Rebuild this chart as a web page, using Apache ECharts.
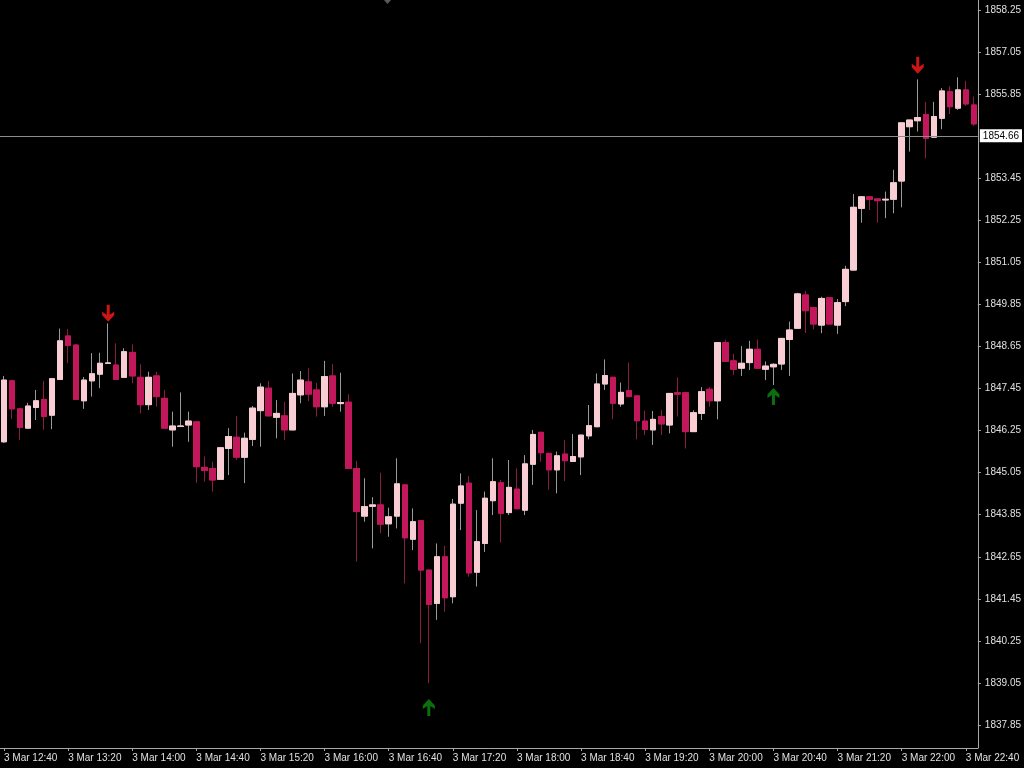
<!DOCTYPE html>
<html><head><meta charset="utf-8">
<script src="https://cdn.jsdelivr.net/npm/echarts@6/dist/echarts.min.js"></script>
<style>html,body{margin:0;padding:0;background:#000;}#c{width:1024px;height:768px;}</style>
</head><body><div id="c"></div>
<script>
// 5-minute candles, 3 Mar 12:40 .. 22:45
const openVals = [1845.93,1847.67,1846.87,1846.32,1846.91,1847.14,1846.69,1847.71,1848.95,1848.69,
1847.10,1847.67,1847.86,1848.17,1848.12,1847.77,1848.48,1847.77,1846.99,1847.81,
1847.17,1846.27,1846.37,1846.41,1846.50,1845.20,1845.17,1844.86,1845.74,1846.06,
1845.49,1846.00,1846.82,1847.46,1846.63,1846.67,1846.27,1847.27,1847.64,1847.41,
1846.93,1847.81,1847.02,1847.06,1845.17,1843.81,1844.09,1844.13,1843.59,1843.81,
1844.70,1843.15,1843.68,1842.27,1841.32,1842.65,1841.51,1844.18,1844.75,1842.21,
1843.03,1844.25,1844.76,1843.91,1844.58,1843.98,1845.29,1846.20,1845.60,1845.13,
1845.58,1845.37,1845.50,1846.10,1846.36,1847.58,1847.77,1847.01,1847.39,1847.24,
1846.52,1846.27,1846.65,1846.41,1847.33,1847.33,1846.22,1846.74,1847.43,1847.10,
1848.76,1848.24,1848.03,1848.19,1848.57,1848.00,1848.07,1848.15,1848.85,1849.17,
1850.12,1849.76,1849.26,1850.04,1849.26,1849.93,1850.83,1852.59,1852.92,1852.86,
1852.83,1852.85,1853.37,1854.92,1855.09,1855.27,1854.62,1855.16,1855.92,1855.45,
1855.97,1855.54];
const highVals = [1847.81,1847.70,1846.90,1847.04,1847.41,1847.67,1847.75,1849.16,1849.15,1848.72,
1847.78,1848.46,1848.47,1849.31,1848.74,1848.60,1848.71,1848.14,1847.93,1847.93,
1847.41,1846.79,1847.34,1846.79,1846.52,1845.51,1845.36,1845.78,1846.32,1846.67,
1846.19,1846.95,1847.60,1847.67,1847.12,1847.07,1847.88,1847.95,1848.03,1847.61,
1848.24,1848.15,1847.90,1847.29,1845.39,1844.89,1844.35,1845.05,1844.05,1845.46,
1844.72,1844.03,1843.70,1842.28,1843.03,1842.96,1844.30,1845.03,1844.95,1843.98,
1844.51,1845.46,1844.84,1845.41,1845.17,1845.55,1846.27,1846.22,1845.62,1845.65,
1845.98,1846.15,1846.13,1846.98,1847.88,1848.28,1847.79,1847.62,1848.19,1847.26,
1846.82,1846.81,1846.83,1847.32,1847.77,1847.35,1846.83,1847.49,1847.49,1848.77,
1848.85,1848.44,1848.66,1848.81,1848.85,1848.22,1848.17,1848.89,1849.36,1850.18,
1850.24,1849.77,1850.07,1850.05,1850.00,1850.95,1853.00,1852.93,1852.94,1852.87,
1853.07,1853.69,1855.04,1855.12,1856.27,1855.63,1855.63,1856.02,1856.08,1856.33,
1856.23,1855.78];
const lowVals = [1845.90,1846.58,1845.98,1846.30,1846.55,1846.27,1846.29,1847.70,1848.17,1847.12,
1846.87,1847.22,1847.46,1848.15,1847.70,1847.76,1847.60,1846.74,1846.84,1846.93,
1846.31,1845.79,1846.35,1845.93,1844.76,1844.79,1844.51,1844.85,1844.98,1845.41,
1844.75,1845.81,1845.79,1846.66,1846.03,1845.98,1846.26,1847.03,1847.09,1846.65,
1846.67,1846.93,1846.79,1845.16,1842.51,1843.65,1842.89,1843.32,1843.22,1843.46,
1841.89,1842.84,1840.18,1839.04,1840.85,1841.08,1841.32,1843.41,1842.08,1841.80,
1842.79,1843.84,1843.06,1843.84,1844.01,1843.84,1844.70,1845.36,1844.56,1844.46,
1844.81,1845.36,1844.98,1846.00,1846.35,1847.41,1846.57,1846.93,1847.21,1846.00,
1846.12,1845.84,1846.12,1846.17,1846.65,1845.74,1846.21,1846.55,1846.93,1846.57,
1848.21,1847.84,1847.81,1847.98,1848.02,1847.69,1847.55,1847.98,1847.81,1849.16,
1849.03,1849.14,1849.03,1849.28,1849.01,1849.80,1850.82,1852.18,1852.54,1852.18,
1852.31,1852.45,1852.62,1854.21,1854.78,1854.02,1854.60,1854.85,1855.28,1855.40,
1855.51,1854.94];
const closeVals = [1847.69,1846.87,1846.34,1846.95,1847.10,1846.65,1847.73,1848.81,1848.68,1847.14,
1847.69,1847.87,1848.17,1848.18,1847.71,1848.50,1847.81,1846.99,1847.77,1847.22,
1846.32,1846.38,1846.38,1846.52,1845.22,1845.11,1844.84,1845.76,1846.08,1845.49,
1846.03,1846.89,1847.49,1846.67,1846.74,1846.27,1847.31,1847.69,1847.29,1846.93,
1847.79,1847.03,1847.05,1845.17,1843.94,1844.08,1844.13,1843.58,1843.79,1844.73,
1843.19,1843.65,1842.27,1841.29,1842.65,1841.48,1844.15,1844.67,1842.19,1843.08,
1844.32,1844.79,1843.89,1844.63,1844.02,1845.30,1846.14,1845.62,1845.13,1845.53,
1845.39,1845.51,1846.12,1846.39,1847.58,1847.82,1847.03,1847.34,1847.22,1846.53,
1846.28,1846.57,1846.44,1847.31,1847.29,1846.22,1846.76,1847.36,1847.10,1848.76,
1848.22,1848.00,1848.17,1848.57,1848.03,1848.09,1848.14,1848.88,1849.12,1850.15,
1849.67,1849.29,1850.02,1849.29,1849.90,1850.85,1852.62,1852.92,1852.85,1852.81,
1852.85,1853.32,1855.03,1855.11,1855.18,1854.59,1855.21,1855.94,1855.49,1855.97,
1855.57,1855.00];

// signal arrows: [candle index, price]
const sellArrows = [[13, 1849.60], [114, 1856.67]];
const buyArrows = [[53, 1838.35], [96, 1847.22]];

// price axis tick labels
const yTicks = [1858.25,1857.05,1855.85,1853.45,1852.25,1851.05,1849.85,1848.65,1847.45,
1846.25,1845.05,1843.85,1842.65,1841.45,1840.25,1839.05,1837.85];
const bidPrice = 1854.66;

const startMinutes = 12 * 60 + 40;
const times = openVals.map((_, i) => {
  const m = startMinutes + 5 * i;
  return '3 Mar ' + String(Math.floor(m / 60)).padStart(2, '0') + ':' + String(m % 60).padStart(2, '0');
});

const BULL = '#f8cdd4', BEAR = '#c2185b';
const wickData = openVals.map((o, i) => [o, closeVals[i], lowVals[i], highVals[i]]);
const bodyData = openVals.map((o, i) => [o, closeVals[i], Math.min(o, closeVals[i]), Math.max(o, closeVals[i])]);

const downPath = 'path://M0,7 L4.5,10 L4.5,0 L7.5,0 L7.5,10 L12,7 L12,10.5 L6,17 L0,10.5 Z';
const upPath = 'path://M0,10 L4.5,7 L4.5,17 L7.5,17 L7.5,7 L12,10 L12,6.5 L6,0 L0,6.5 Z';

const chart = echarts.init(document.getElementById('c'), null, {renderer: 'canvas'});
chart.setOption({
  backgroundColor: '#000000',
  animation: false,
  grid: {left: 0, right: 42, top: 0, bottom: 20},
  xAxis: {
    type: 'category',
    data: times,
    boundaryGap: true,
    axisLine: {lineStyle: {color: '#a8a8a8', width: 1}},
    axisTick: {show: true, interval: 7, alignWithLabel: true, length: 3, lineStyle: {color: '#a8a8a8'}},
    axisLabel: {interval: 7, align: 'left', margin: 5, color: '#e0e0e0', fontSize: 10,
      fontFamily: 'Liberation Sans'},
    splitLine: {show: false}
  },
  yAxis: {
    type: 'value',
    position: 'right',
    min: 1837.194,
    max: 1858.535,
    scale: true,
    axisLine: {show: true, lineStyle: {color: '#a8a8a8', width: 1}},
    axisTick: {show: true, length: 3, customValues: yTicks, lineStyle: {color: '#a8a8a8'}},
    axisLabel: {customValues: yTicks, formatter: v => Number(v).toFixed(2), color: '#e0e0e0',
      fontSize: 10, fontFamily: 'Liberation Sans', margin: 7},
    splitLine: {show: false}
  },
  series: [
    {
      type: 'candlestick', name: 'wick', data: wickData, barWidth: 6, silent: true,
      itemStyle: {color: BULL, color0: BEAR, borderColor: '#9a9a9a', borderColor0: '#8a1c45', borderWidth: 1}
    },
    {
      type: 'candlestick', name: 'body', data: bodyData, barWidth: 6, silent: true,
      itemStyle: {color: BULL, color0: BEAR, borderColor: BULL, borderColor0: BEAR, borderWidth: 1},
      markLine: {
        silent: true, symbol: ['none', 'none'],
        lineStyle: {color: '#8c8c8c', width: 1, type: 'solid'},
        label: {position: 'end', formatter: bidPrice.toFixed(2), backgroundColor: '#ffffff', color: '#000000',
          fontSize: 10, fontFamily: 'Liberation Sans', padding: [2, 3, 1, 3], distance: 2},
        data: [{yAxis: bidPrice}]
      }
    },
    {
      type: 'scatter', name: 'sell', data: sellArrows, symbol: downPath, symbolSize: [12, 17],
      itemStyle: {color: '#ff1a1a'}, silent: true
    },
    {
      type: 'scatter', name: 'buy', data: buyArrows, symbol: upPath, symbolSize: [12, 17],
      itemStyle: {color: '#0d8c12'}, silent: true
    }
  ],
  graphic: [{
    type: 'polygon', left: 384, top: 0, silent: true,
    shape: {points: [[0, 0], [7, 0], [3.5, 4]]}, style: {fill: '#5a5a5a'}
  }]
});
</script></body></html>
